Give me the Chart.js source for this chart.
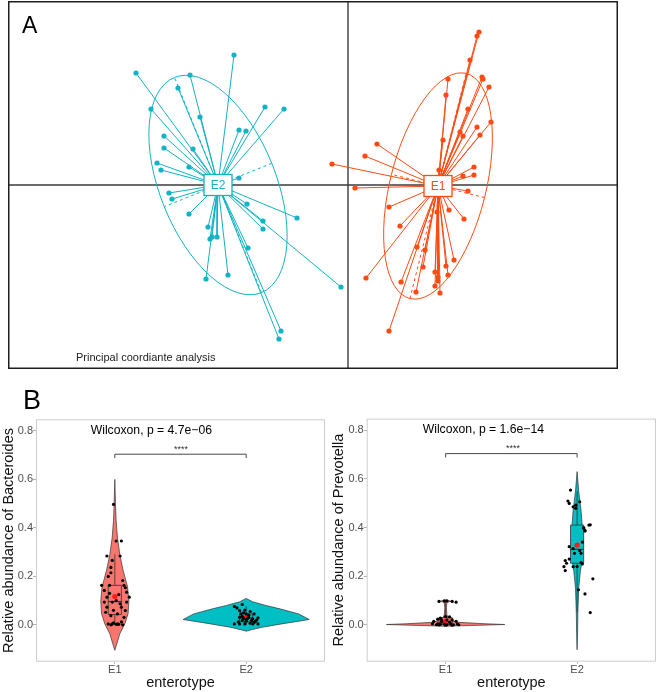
<!DOCTYPE html>
<html>
<head>
<meta charset="utf-8">
<script src="https://cdn.jsdelivr.net/npm/chart.js@4.4.0/dist/chart.umd.min.js"></script>
<style>
  body { margin: 0; background: #fff; font-family: 'Liberation Sans', Arial, sans-serif; }
  #page { position: relative; width: 660px; height: 692px; overflow: hidden; }
  canvas, .lbl { position: absolute; }
  .lbl { white-space: nowrap; line-height: 1; color: #000; }
</style>
</head>
<body>
<div id="page">
  <canvas id="pcoa" width="610" height="368" style="left:8px;top:1px"></canvas>
  <canvas id="bact" width="330" height="280" style="left:0;top:412px"></canvas>
  <canvas id="prev" width="330" height="280" style="left:330px;top:412px"></canvas>

  <div class="lbl" style="left:22px;top:14px;font-size:23px">A</div>
  <div class="lbl" style="left:76px;top:352.4px;font-size:11px;color:#222">Principal coordiante analysis</div>
  <div class="lbl" style="left:23px;top:386.5px;font-size:27px">B</div>
  <div class="lbl" style="left:90.7px;top:424.4px;font-size:12.2px">Wilcoxon, p = 4.7e−06</div>
  <div class="lbl" style="left:422.7px;top:423.4px;font-size:12.2px">Wilcoxon, p = 1.6e−14</div>
  <div class="lbl" style="left:181px;top:445px;font-size:9px;color:#333;transform:translateX(-50%)">****</div>
  <div class="lbl" style="left:513px;top:443.6px;font-size:9px;color:#333;transform:translateX(-50%)">****</div>
</div>

<script>
// ---------- panel A : principal coordinate scores ----------
var tealA = '#12B3C4';
var orangeA = '#FF4A12';

var e2Center = [-1.30, 0.00];
var e2X = [-2.12, -1.14, -1.58, -1.70, -1.97, -1.48, -0.83, -0.64, -1.09, -1.02, -1.84, -1.84,
           -1.55, -1.91, -1.87, -1.59, -1.09, -1.79, -1.76, -1.59, -1.01, -0.51, -0.85, -0.85,
           -1.40, -1.36, -1.38, -1.31, -1.00, -1.42, -1.20, -0.07, -0.67, -0.69];
var e2Y = [1.12, 1.30, 1.10, 0.97, 0.76, 0.68, 0.78, 0.76, 0.55, 0.54, 0.49, 0.37,
           0.36, 0.22, 0.15, 0.18, 0.07, -0.08, -0.14, -0.29, -0.19, -0.33, -0.36, -0.44,
           -0.42, -0.52, -0.54, -0.52, -0.63, -0.94, -0.90, -1.02, -1.46, -1.54];

var e1Center = [0.90, -0.01];
var e1X = [1.31, 1.29, 1.22, 1.34, 1.35, 1.00, 1.41, 0.98, 1.20, 1.43, 1.29, 1.32, 1.15, 1.12,
           0.95, 0.29, 0.17, -0.16, 1.26, 0.91, 1.26, 1.15, 0.07, 1.20, 0.41, 1.01, 0.89, 1.16,
           0.52, 0.69, 0.77, 1.06, 0.75, 0.98, 0.87, 1.00, 0.90, 0.90, 0.87, 0.18, 0.53, 0.68,
           0.92, 0.41];
var e1Y = [1.53, 1.49, 1.25, 1.08, 1.06, 1.06, 0.98, 0.90, 0.76, 0.63, 0.58, 0.50, 0.49, 0.53,
           0.45, 0.41, 0.29, 0.21, 0.18, 0.15, 0.10, 0.09, -0.03, -0.06, -0.22, -0.25, -0.27, -0.34,
           -0.41, -0.62, -0.65, -0.75, -0.82, -0.81, -0.87, -0.90, -0.92, -0.96, -1.01, -0.93, -0.97, -1.07,
           -1.08, -1.46];

// inertia ellipses: [major semi-axis, minor semi-axis, tilt in degrees]
var e2Ellipse = [1.16, 0.58, 112];
var e1Ellipse = [1.16, 0.48, 76];

// ---------- panel B : relative abundances ----------
var enterotypes = ['E1', 'E2'];
var groupColors = ['#F8766D', '#00BFC4'];
var yTicks = [0, 0.2, 0.4, 0.6, 0.8];

// violin outlines: [abundance, half width in category units]
var bactViolinE1 = [[0.60, 0], [0.50, 0.005], [0.43, 0.01], [0.36, 0.02], [0.29, 0.038], [0.225, 0.063],
                    [0.156, 0.097], [0.10, 0.107], [0.046, 0.101], [0.004, 0.076], [-0.037, 0.038],
                    [-0.079, 0.015], [-0.105, 0]];
var bactViolinE2 = [[0.109, 0], [0.095, 0.05], [0.08, 0.15], [0.067, 0.25], [0.045, 0.40], [0.022, 0.48],
                    [0.004, 0.27], [-0.01, 0.12], [-0.02, 0.04], [-0.026, 0]];
var prevViolinE1 = [[0.102, 0], [0.097, 0.04], [0.092, 0.01], [0.07, 0.006], [0.04, 0.01], [0.02, 0.03],
                    [0.01, 0.1], [0.004, 0.3], [0.001, 0.45], [-0.003, 0.2], [-0.006, 0]];
var prevViolinE2 = [[0.63, 0], [0.55, 0.012], [0.47, 0.03], [0.40, 0.04], [0.33, 0.045], [0.27, 0.04],
                    [0.22, 0.025], [0.15, 0.012], [0.05, 0.006], [-0.05, 0.003], [-0.103, 0]];

// box stats: [lower whisker, q1, median, q3, upper whisker]
var bactBoxE1 = [0.0, 0.043, 0.096, 0.163, 0.29];
var bactBoxE2 = [0.0, 0.013, 0.028, 0.045, 0.076];
var prevBoxE1 = [0.0, 0.002, 0.008, 0.030, 0.098];
var prevBoxE2 = [0.05, 0.253, 0.31, 0.41, 0.55];
var bactMeans = [0.117, 0.030];
var prevMeans = [0.014, 0.328];

// jittered samples
var bactE1X = [0.99, 1.01, 1.05, 0.94, 1.04, 0.98, 0.97, 0.97, 0.95, 0.90, 1.06, 1.07, 1.08, 0.96, 0.92,
               1.09, 0.94, 1.11, 0.92, 0.98, 1.01, 1.04, 1.09, 0.94, 1.05, 1.08, 0.93, 0.97, 1.07, 0.95,
               0.98, 0.99, 1.02, 1.05, 1.03, 1.01, 1.06, 0.97, 0.96, 1.03, 0.99, 1.02];
var bactE1Y = [0.497, 0.346, 0.346, 0.284, 0.284, 0.266, 0.237, 0.215, 0.200, 0.163, 0.183, 0.163, 0.153, 0.163, 0.142,
               0.135, 0.114, 0.114, 0.094, 0.094, 0.100, 0.087, 0.094, 0.073, 0.073, 0.059, 0.052, 0.038, 0.031, 0.004,
               0.004, 0.008, 0.004, 0.012, 0.002, 0.002, 0.000, 0.000, 0.130, 0.125, 0.060, 0.045];
var bactE2X = [1.91, 1.97, 1.95, 1.99, 1.96, 2.00, 2.03, 2.06, 1.95, 1.98, 2.02, 2.05, 2.09, 1.97, 2.00,
               2.04, 2.07, 1.95, 1.99, 2.03, 2.05, 1.91, 2.01, 2.09, 1.93, 2.08, 1.97, 2.02, 1.94, 2.06,
               2.00, 1.98];
var bactE2Y = [0.076, 0.084, 0.059, 0.061, 0.045, 0.045, 0.055, 0.045, 0.031, 0.027, 0.031, 0.025, 0.029, 0.018, 0.015,
               0.018, 0.014, 0.004, 0.004, 0.007, 0.004, 0.004, 0.026, 0.004, 0.070, 0.020, 0.035, 0.040, 0.012, 0.010,
               0.022, 0.050];
var prevE1X = [0.95, 0.99, 1.01, 1.05, 1.08, 1.00, 0.96, 1.03, 0.94, 1.05, 0.91, 1.08, 0.97, 1.03, 0.90,
               0.94, 0.96, 0.99, 1.01, 1.04, 1.06, 1.09, 0.93, 0.95, 1.05, 1.00, 1.10, 0.97, 1.01];
var prevE1Y = [0.096, 0.098, 0.098, 0.096, 0.093, 0.034, 0.027, 0.032, 0.023, 0.020, 0.014, 0.014, 0.014, 0.011, 0.004,
               0.004, 0.002, 0.003, 0.000, 0.003, 0.000, 0.003, 0.000, -0.001, -0.002, -0.002, 0.000, 0.020, 0.020];
var prevE2X = [1.95, 1.93, 1.94, 1.97, 1.99, 2.02, 1.99, 2.09, 2.05, 2.06, 2.10, 2.05, 2.06, 2.04, 1.94,
               1.97, 2.03, 2.02, 1.98, 1.91, 1.94, 1.92, 1.90, 1.91, 1.97, 2.00, 2.03, 2.04, 2.12, 2.01,
               2.06, 2.10];
var prevE2Y = [0.554, 0.509, 0.499, 0.485, 0.479, 0.506, 0.492, 0.410, 0.397, 0.387, 0.411, 0.400, 0.386, 0.340, 0.321,
               0.313, 0.294, 0.305, 0.294, 0.264, 0.270, 0.253, 0.239, 0.223, 0.239, 0.240, 0.256, 0.250, 0.189, 0.144,
               0.127, 0.050];

var bracketY = 0.704;

Chart.defaults.font.family = "'Liberation Sans', Arial, sans-serif";
Chart.defaults.color = '#4d4d4d';

function toPoints(xs, ys) {
  return xs.map(function (x, i) { return { x: x, y: ys[i] }; });
}

// ---------- panel A ----------
function spokes(center, xs, ys) {
  var pts = [];
  xs.forEach(function (x, i) {
    pts.push({ x: center[0], y: center[1] }, { x: x, y: ys[i] }, { x: null, y: null });
  });
  return pts;
}

function spokeSet(center, xs, ys, col) {
  return {
    data: spokes(center, xs, ys),
    showLine: true,
    spanGaps: false,
    borderColor: col,
    borderWidth: 1,
    pointBackgroundColor: col,
    pointBorderWidth: 0,
    pointRadius: function (c) { return c.dataIndex % 3 === 1 ? 2.6 : 0; }
  };
}

var groupsA = [
  { name: 'E2', center: e2Center, ell: e2Ellipse, color: tealA },
  { name: 'E1', center: e1Center, ell: e1Ellipse, color: orangeA }
];

var pcoaDecor = {
  id: 'pcoaDecor',
  beforeDatasetsDraw: function (chart) {
    var ctx = chart.ctx, a = chart.chartArea, x = chart.scales.x, y = chart.scales.y;
    ctx.save();
    var x0 = x.getPixelForValue(0), y0 = y.getPixelForValue(0);
    ctx.strokeStyle = '#3d3d3d';
    ctx.lineWidth = 1.4;
    ctx.beginPath();
    ctx.moveTo(a.left, y0); ctx.lineTo(a.right, y0);
    ctx.moveTo(x0, a.top); ctx.lineTo(x0, a.bottom);
    ctx.stroke();

    groupsA.forEach(function (g) {
      var t = g.ell[2] * Math.PI / 180;
      var cx = x.getPixelForValue(g.center[0]), cy = y.getPixelForValue(g.center[1]);
      var ax = x.getPixelForValue(g.center[0] + g.ell[0] * Math.cos(t)) - cx;
      var ay = y.getPixelForValue(g.center[1] + g.ell[0] * Math.sin(t)) - cy;
      var bx = x.getPixelForValue(g.center[0] - g.ell[1] * Math.sin(t)) - cx;
      var by = y.getPixelForValue(g.center[1] + g.ell[1] * Math.cos(t)) - cy;
      ctx.strokeStyle = g.color;
      ctx.lineWidth = 1;
      ctx.setLineDash([]);
      ctx.beginPath();
      ctx.ellipse(cx, cy, Math.hypot(ax, ay), Math.hypot(bx, by), Math.atan2(ay, ax), 0, Math.PI * 2);
      ctx.stroke();
      ctx.setLineDash([3, 3]);
      ctx.beginPath();
      ctx.moveTo(cx - ax, cy - ay); ctx.lineTo(cx + ax, cy + ay);
      ctx.moveTo(cx - bx, cy - by); ctx.lineTo(cx + bx, cy + by);
      ctx.stroke();
    });
    ctx.restore();
  },
  afterDatasetsDraw: function (chart) {
    var ctx = chart.ctx, a = chart.chartArea, x = chart.scales.x, y = chart.scales.y;
    ctx.save();
    groupsA.forEach(function (g) {
      var cx = x.getPixelForValue(g.center[0]), cy = y.getPixelForValue(g.center[1]);
      ctx.fillStyle = '#fff';
      ctx.fillRect(cx - 14, cy - 10.5, 28, 21);
      ctx.strokeStyle = g.color;
      ctx.lineWidth = 1.3;
      ctx.strokeRect(cx - 14, cy - 10.5, 28, 21);
      ctx.fillStyle = g.color;
      ctx.font = "12px 'Liberation Sans', Arial, sans-serif";
      ctx.textAlign = 'center';
      ctx.textBaseline = 'middle';
      ctx.fillText(g.name, cx, cy + 0.5);
    });
    ctx.strokeStyle = '#1e1e1e';
    ctx.lineWidth = 1.5;
    ctx.strokeRect(a.left + 0.75, a.top + 0.75, a.width - 1.5, a.height - 1.5);
    ctx.restore();
  }
};

new Chart(document.getElementById('pcoa'), {
  type: 'scatter',
  data: {
    datasets: [
      spokeSet(e2Center, e2X, e2Y, tealA),
      spokeSet(e1Center, e1X, e1Y, orangeA)
    ]
  },
  options: {
    responsive: false,
    animation: false,
    layout: { padding: 0 },
    plugins: { legend: { display: false }, tooltip: { enabled: false } },
    scales: {
      x: { type: 'linear', min: -3.40, max: 2.70, display: false },
      y: { type: 'linear', min: -1.84, max: 1.84, display: false }
    }
  },
  plugins: [pcoaDecor]
});

// ---------- panel B ----------
function abundanceChart(id, yTitle, violins, boxes, means, e1, e2, yWidth, padTop, padRight) {
  var layer = {
    id: 'violinLayer',
    beforeDatasetsDraw: function (chart) {
      var ctx = chart.ctx, x = chart.scales.x, y = chart.scales.y;
      ctx.save();
      ctx.lineJoin = 'round';
      violins.forEach(function (prof, i) {
        var xc = i + 1;
        ctx.beginPath();
        prof.forEach(function (p, k) {
          var px = x.getPixelForValue(xc + p[1]), py = y.getPixelForValue(p[0]);
          if (k) ctx.lineTo(px, py); else ctx.moveTo(px, py);
        });
        for (var k = prof.length - 1; k >= 0; k--) {
          ctx.lineTo(x.getPixelForValue(xc - prof[k][1]), y.getPixelForValue(prof[k][0]));
        }
        ctx.closePath();
        ctx.fillStyle = groupColors[i];
        ctx.fill();
        ctx.strokeStyle = '#333';
        ctx.lineWidth = 0.7;
        ctx.stroke();
      });
      boxes.forEach(function (b, i) {
        var xc = x.getPixelForValue(i + 1);
        var hw = x.getPixelForValue(i + 1.05) - xc;
        ctx.strokeStyle = '#333';
        ctx.lineWidth = 0.8;
        ctx.beginPath();
        ctx.moveTo(xc, y.getPixelForValue(b[0])); ctx.lineTo(xc, y.getPixelForValue(b[1]));
        ctx.moveTo(xc, y.getPixelForValue(b[3])); ctx.lineTo(xc, y.getPixelForValue(b[4]));
        ctx.stroke();
        var top = y.getPixelForValue(b[3]), bot = y.getPixelForValue(b[1]);
        ctx.fillStyle = groupColors[i];
        ctx.fillRect(xc - hw, top, hw * 2, bot - top);
        ctx.strokeRect(xc - hw, top, hw * 2, bot - top);
        ctx.lineWidth = 1.2;
        ctx.beginPath();
        ctx.moveTo(xc - hw, y.getPixelForValue(b[2])); ctx.lineTo(xc + hw, y.getPixelForValue(b[2]));
        ctx.stroke();
      });
      ctx.restore();
    },
    afterDatasetsDraw: function (chart) {
      var ctx = chart.ctx, a = chart.chartArea, x = chart.scales.x, y = chart.scales.y;
      ctx.save();
      var yb = y.getPixelForValue(bracketY), yt = y.getPixelForValue(bracketY - 0.016);
      var x1 = x.getPixelForValue(1), x2 = x.getPixelForValue(2);
      ctx.strokeStyle = '#333';
      ctx.lineWidth = 0.9;
      ctx.beginPath();
      ctx.moveTo(x1, yt); ctx.lineTo(x1, yb); ctx.lineTo(x2, yb); ctx.lineTo(x2, yt);
      ctx.stroke();
      ctx.strokeStyle = '#cdcdcd';
      ctx.lineWidth = 1;
      ctx.strokeRect(a.left + 0.5, a.top + 0.5, a.width - 1, a.height - 1);
      ctx.restore();
    }
  };

  return new Chart(document.getElementById(id), {
    type: 'scatter',
    data: {
      datasets: [
        { data: toPoints(e1[0], e1[1]), pointRadius: 1.6, pointBackgroundColor: '#000', pointBorderWidth: 0 },
        { data: toPoints(e2[0], e2[1]), pointRadius: 1.6, pointBackgroundColor: '#000', pointBorderWidth: 0 },
        { data: toPoints([1, 2], means), pointRadius: 2.6, pointBackgroundColor: '#ff1a1a', pointBorderWidth: 0 }
      ]
    },
    options: {
      responsive: false,
      animation: false,
      layout: { padding: { top: padTop, right: padRight, left: 0, bottom: 0 } },
      plugins: { legend: { display: false }, tooltip: { enabled: false } },
      scales: {
        x: {
          type: 'linear', min: 0.4, max: 2.6,
          afterBuildTicks: function (s) { s.ticks = [{ value: 1 }, { value: 2 }]; },
          afterFit: function (s) { s.height = 30.3; },
          ticks: { autoSkip: false, maxRotation: 0, padding: 0, font: { size: 11 }, color: '#4d4d4d',
                   callback: function (v) { return enterotypes[v - 1]; } },
          grid: { drawOnChartArea: false, drawTicks: true, tickLength: 2, color: '#b3b3b3' },
          border: { display: false },
          title: { display: true, text: 'enterotype', color: '#111', padding: 0, font: { size: 14.5 } }
        },
        y: {
          type: 'linear', min: -0.152, max: 0.848,
          afterBuildTicks: function (s) { s.ticks = yTicks.map(function (v) { return { value: v }; }); },
          afterFit: function (s) { s.width = yWidth; },
          ticks: { padding: 0, font: { size: 11 }, color: '#4d4d4d',
                   callback: function (v) { return v.toFixed(1); } },
          grid: { drawOnChartArea: false, drawTicks: true, tickLength: 3, color: '#b3b3b3' },
          border: { display: false },
          title: { display: true, text: yTitle, color: '#111', padding: 0, font: { size: 14.5 } }
        }
      }
    },
    plugins: [layer]
  });
}

abundanceChart('bact', 'Relative abundance of Bacteroides',
  [bactViolinE1, bactViolinE2], [bactBoxE1, bactBoxE2], bactMeans,
  [bactE1X, bactE1Y], [bactE2X, bactE2Y], 36, 7.3, 5);

abundanceChart('prev', 'Relative abundance of Prevotella',
  [prevViolinE1, prevViolinE2], [prevBoxE1, prevBoxE2], prevMeans,
  [prevE1X, prevE1Y], [prevE2X, prevE2Y], 36.7, 6.3, 2);
</script>
</body>
</html>
